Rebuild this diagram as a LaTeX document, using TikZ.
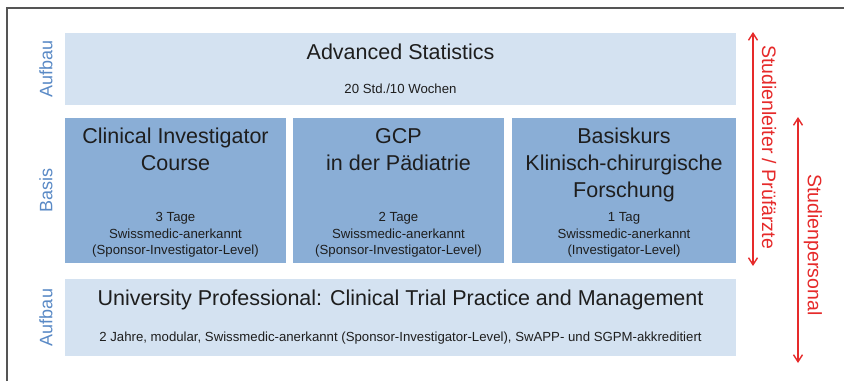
\documentclass[tikz,border=0pt]{standalone}
\usepackage{fontspec}
\setmainfont{Liberation Sans}
\usetikzlibrary{arrows.meta}
\definecolor{lightbox}{HTML}{D4E2F1}
\definecolor{midbox}{HTML}{8AAED6}
\definecolor{levelblue}{HTML}{5A8AC6}
\definecolor{staffred}{HTML}{E62A2A}
\definecolor{frameline}{HTML}{555555}
\definecolor{ink}{HTML}{1E1E1E}
\tikzset{
  lightpanel/.style={fill=lightbox, draw=none, inner sep=0pt},
  midpanel/.style={fill=midbox, draw=none, inner sep=0pt},
  headtext/.style={text=ink, align=center, inner sep=0pt,
    font=\fontsize{21.5}{27}\selectfont},
  subtext/.style={text=ink, align=center, inner sep=0pt,
    font=\fontsize{13.2}{16.5}\selectfont},
  levellabel/.style={text=levelblue, rotate=90, inner sep=0pt,
    font=\fontsize{18}{20}\selectfont},
  stafflabel/.style={text=staffred, rotate=-90, inner sep=0pt,
    font=\fontsize{19.5}{22}\selectfont},
  staffarrow/.style={draw=staffred, line width=1.4pt,
    {Straight Barb[length=7pt,width=9pt]}-{Straight Barb[length=7pt,width=9pt]}}
}
\begin{document}
\begin{tikzpicture}[x=1pt, y=-1pt]
  \useasboundingbox (0,0) rectangle (844,381);
  \fill[white] (0,0) rectangle (844,381);
  % outer frame (top and left edges)
  \draw[frameline, line width=1.6pt] (7,381) -- (7,8) -- (844,8);

  % level labels
  \node[levellabel] (lblTop) at (46,69) {Aufbau};
  \node[levellabel] (lblBasis) at (46,190.5) {Basis};
  \node[levellabel] (lblBottom) at (46,317.5) {Aufbau};

  % advanced statistics
  \node[lightpanel, minimum width=671pt, minimum height=72pt] (stats) at (400.5,69) {};
  \node[headtext] (statsTitle) at (400.5,52) {Advanced Statistics};
  \node[subtext] (statsInfo) at (400.5,89) {20 Std./10 Wochen};

  % basis courses
  \node[midpanel, minimum width=221pt, minimum height=145pt] (cic) at (175.5,190.5) {};
  \node[midpanel, minimum width=211pt, minimum height=145pt] (gcp) at (398.5,190.5) {};
  \node[midpanel, minimum width=224pt, minimum height=145pt] (bkf) at (624,190.5) {};

  \node[headtext] (cicTitle) at (175.5,149.6) {Clinical Investigator\\Course};
  \node[headtext] (gcpTitle) at (398.5,149.6) {GCP\\in der Pädiatrie};
  \node[headtext] (bkfTitle) at (624,165) {Basiskurs\\Klinisch-chirurgische\\Forschung};

  \node[subtext] (cicInfo) at (175.5,235) {3 Tage\\Swissmedic-anerkannt\\(Sponsor-Investigator-Level)};
  \node[subtext] (gcpInfo) at (398.5,235) {2 Tage\\Swissmedic-anerkannt\\(Sponsor-Investigator-Level)};
  \node[subtext] (bkfInfo) at (624,235) {1 Tag\\Swissmedic-anerkannt\\(Investigator-Level)};

  % university professional
  \node[lightpanel, minimum width=671pt, minimum height=77pt] (uni) at (400.5,317.5) {};
  \node[headtext] (uniTitle) at (400.5,300.2) {University Professional: Clinical Trial Practice and Management};
  \node[subtext] (uniInfo) at (400.5,338.3) {2 Jahre, modular, Swissmedic-anerkannt (Sponsor-Investigator-Level), SwAPP- und SGPM-akkreditiert};

  % staff ranges
  \coordinate (leadTop) at (753,32);
  \coordinate (leadBottom) at (753,266);
  \coordinate (staffTop) at (798,117);
  \coordinate (staffBottom) at (798,363);
  \draw[staffarrow] (leadTop) -- (leadBottom);
  \draw[staffarrow] (staffTop) -- (staffBottom);
  \node[stafflabel] (leadText) at (769,147) {Studienleiter / Prüfärzte};
  \node[stafflabel] (staffText) at (813,245) {Studienpersonal};
\end{tikzpicture}
\end{document}
